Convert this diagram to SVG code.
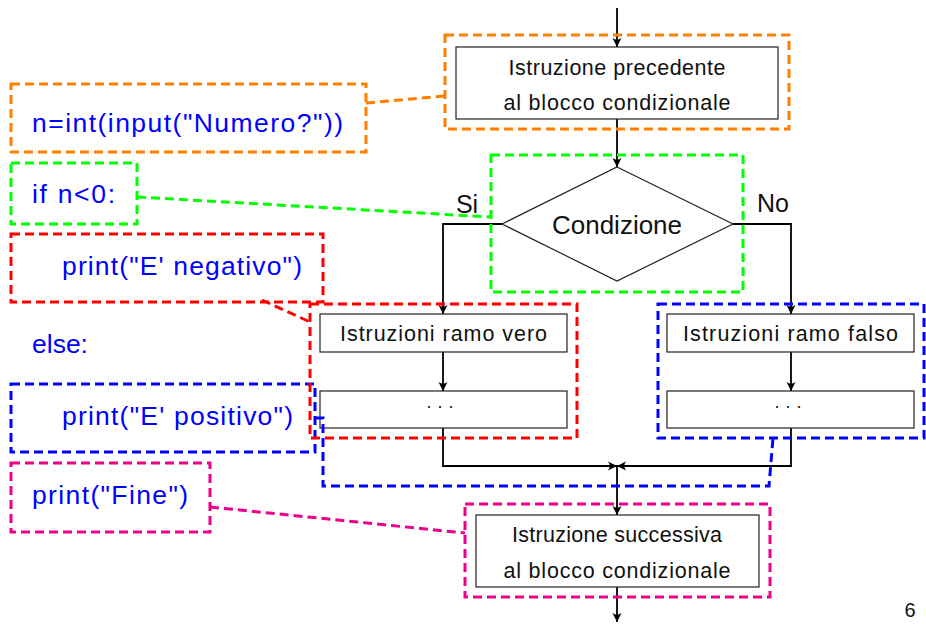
<svg xmlns="http://www.w3.org/2000/svg" width="926" height="624" viewBox="0 0 926 624">
<style>
.bg{fill:#fff}
.box{fill:#fff;stroke:#222;stroke-width:1.2}
.t{font-family:"Liberation Sans","DejaVu Sans",sans-serif;fill:#111;text-anchor:middle}
.bt{font-size:21.5px}
.code{font-family:"Liberation Sans","DejaVu Sans",sans-serif;font-size:26.5px;fill:#0000ff}
.flow{fill:none;stroke:#000;stroke-width:1.8}
.dash{fill:none;stroke-width:3;stroke-dasharray:9 5}
.or{stroke:#ff8000}.gr{stroke:#00ff00}.rd{stroke:#ff0000}.bl{stroke:#0000ff}.pk{stroke:#ec008c}
</style>
<defs>
<marker id="arr" markerUnits="userSpaceOnUse" markerWidth="12" markerHeight="12" refX="0" refY="0" viewBox="-10 -6 12 12" orient="auto">
<path d="M0,0 L-9,-4.5 Q-5.5,0 -9,4.5 Z" fill="#000"/>
</marker>
</defs>
<rect class="bg" x="0" y="0" width="926" height="624"/>

<g id="connectors">
<path class="flow" d="M617,8 V47" marker-end="url(#arr)"/>
<path class="flow" d="M617,119 V167" marker-end="url(#arr)"/>
<path class="flow" d="M502,224 H443 V314" marker-end="url(#arr)"/>
<path class="flow" d="M733,224 H791 V314" marker-end="url(#arr)"/>
<path class="flow" d="M443,352 V391" marker-end="url(#arr)"/>
<path class="flow" d="M791,352 V391" marker-end="url(#arr)"/>
<path class="flow" d="M443,428 V466 H617" marker-end="url(#arr)"/>
<path class="flow" d="M791,428 V466 H617" marker-end="url(#arr)"/>
<path class="flow" d="M617,466 V515" marker-end="url(#arr)"/>
<path class="flow" d="M617,587 V622" marker-end="url(#arr)"/>
</g>

<g id="n-prec">
<rect class="box" x="456" y="47" width="322" height="72"/>
<text class="t bt" x="617" y="75" textLength="217">Istruzione precedente</text>
<text class="t bt" x="617" y="110" textLength="227">al blocco condizionale</text>
</g>
<g id="n-cond">
<polygon class="box" points="617,167 733,224 617,281 502,224"/>
<text class="t" x="617" y="234" font-size="26">Condizione</text>
</g>
<g id="lbl-si"><text class="t" x="467" y="213" font-size="25">Si</text></g>
<g id="lbl-no"><text class="t" x="773" y="212" font-size="25">No</text></g>
<g id="n-vero">
<rect class="box" x="320" y="314" width="247" height="38"/>
<text class="t bt" x="443.5" y="341" textLength="207">Istruzioni ramo vero</text>
</g>
<g id="n-vero2">
<rect class="box" x="320" y="391" width="247" height="37"/>
<text class="t" x="440" y="412" font-size="18">· · ·</text>
</g>
<g id="n-falso">
<rect class="box" x="667" y="314" width="247" height="38"/>
<text class="t bt" x="790.5" y="341" textLength="215">Istruzioni ramo falso</text>
</g>
<g id="n-falso2">
<rect class="box" x="667" y="391" width="247" height="37"/>
<text class="t" x="788" y="412" font-size="18">· · ·</text>
</g>
<g id="n-succ">
<rect class="box" x="476" y="515" width="283" height="72"/>
<text class="t bt" x="617" y="542" textLength="210">Istruzione successiva</text>
<text class="t bt" x="617" y="578" textLength="227">al blocco condizionale</text>
</g>

<g id="code-input">
<rect class="dash or" x="11" y="84" width="355" height="68"/>
<text class="code" x="32" y="132" textLength="311">n=int(input("Numero?"))</text>
</g>
<g id="code-if">
<rect class="dash gr" x="11" y="163" width="126" height="61"/>
<text class="code" x="32" y="203" textLength="83">if n&lt;0:</text>
</g>
<g id="code-neg">
<rect class="dash rd" x="11" y="234" width="312" height="68"/>
<text class="code" x="62" y="275" textLength="240">print("E' negativo")</text>
</g>
<g id="code-else">
<text class="code" x="32" y="353" font-size="25">else:</text>
</g>
<g id="code-pos">
<rect class="dash bl" x="11" y="384" width="304" height="68"/>
<text class="code" x="62" y="425" textLength="231">print("E' positivo")</text>
</g>
<g id="code-fine">
<rect class="dash pk" x="11" y="463" width="199" height="69"/>
<text class="code" x="32" y="504" textLength="156">print("Fine")</text>
</g>

<g id="hl-prec"><rect class="dash or" x="445" y="35" width="344" height="94"/></g>
<g id="hl-cond"><rect class="dash gr" x="491" y="155" width="252" height="137"/></g>
<g id="hl-vero"><rect class="dash rd" x="310" y="304" width="267" height="134"/></g>
<g id="hl-falso"><rect class="dash bl" x="658" y="304" width="266" height="134"/></g>
<g id="hl-succ"><rect class="dash pk" x="465" y="504" width="305" height="93"/></g>

<g id="links">
<path class="dash or" d="M366,103 L445,96"/>
<path class="dash gr" d="M137,197 L491,217"/>
<path class="dash rd" d="M262,300 L310,322"/>
<path class="dash bl" d="M315,418 H323 V486 H769 L773,438"/>
<path class="dash pk" d="M210,507 L465,533"/>
</g>

<g id="page"><text class="t" x="910" y="617" font-size="20">6</text></g>
</svg>
